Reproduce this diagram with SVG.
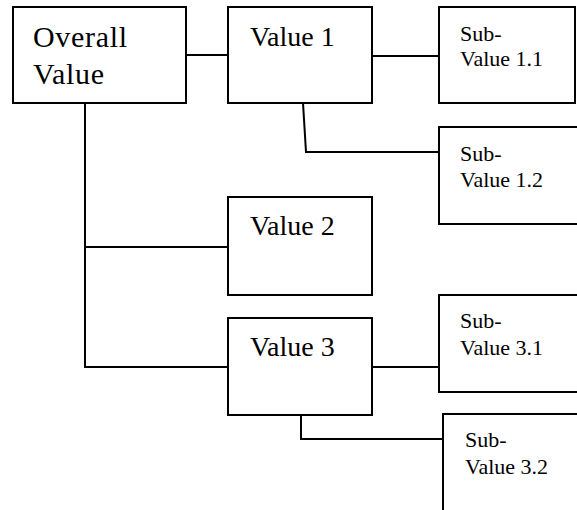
<svg xmlns="http://www.w3.org/2000/svg" width="577" height="510" viewBox="0 0 577 510">
<style>
.box{fill:#fff;stroke:#000;stroke-width:2}
.ln{fill:none;stroke:#000;stroke-width:2}
.t{font-family:'Liberation Serif','Times New Roman',serif;fill:#000}
.big{font-size:30px}
.mid{font-size:28px}
.sm{font-size:22px}
</style>
<rect width="577" height="510" fill="#fff"/>
<g id="connectors">
<path class="ln" d="M186,55H228"/>
<path class="ln" d="M372,56H439"/>
<path class="ln" d="M303,103L306,152H439"/>
<path class="ln" d="M85,103V367H228"/>
<path class="ln" d="M85,247H228"/>
<path class="ln" d="M372,367H439"/>
<path class="ln" d="M301,415V439H443"/>
</g>
<g id="overall">
<rect class="box" x="13" y="7" width="173" height="96"/>
<text class="t big" x="33" y="47" letter-spacing="0.7">Overall</text>
<text class="t big" x="33" y="84" letter-spacing="0.7">Value</text>
</g>
<g id="value1">
<rect class="box" x="228" y="7" width="144" height="96"/>
<text class="t mid" x="250" y="46">Value 1</text>
</g>
<g id="value2">
<rect class="box" x="228" y="197" width="144" height="98"/>
<text class="t mid" x="250" y="235">Value 2</text>
</g>
<g id="value3">
<rect class="box" x="228" y="318" width="144" height="97"/>
<text class="t mid" x="250" y="356">Value 3</text>
</g>
<g id="sub11">
<rect class="box" x="439" y="7" width="136" height="96"/>
<text class="t sm" x="460" y="41">Sub-</text>
<text class="t sm" x="460" y="66">Value 1.1</text>
</g>
<g id="sub12">
<rect class="box" x="439" y="127" width="160" height="97"/>
<text class="t sm" x="460" y="161">Sub-</text>
<text class="t sm" x="460" y="187">Value 1.2</text>
</g>
<g id="sub31">
<rect class="box" x="439" y="295" width="160" height="97"/>
<text class="t sm" x="460" y="328">Sub-</text>
<text class="t sm" x="460" y="355">Value 3.1</text>
</g>
<g id="sub32">
<rect class="box" x="443" y="414" width="160" height="120"/>
<text class="t sm" x="465" y="447">Sub-</text>
<text class="t sm" x="465" y="474">Value 3.2</text>
</g>
</svg>
